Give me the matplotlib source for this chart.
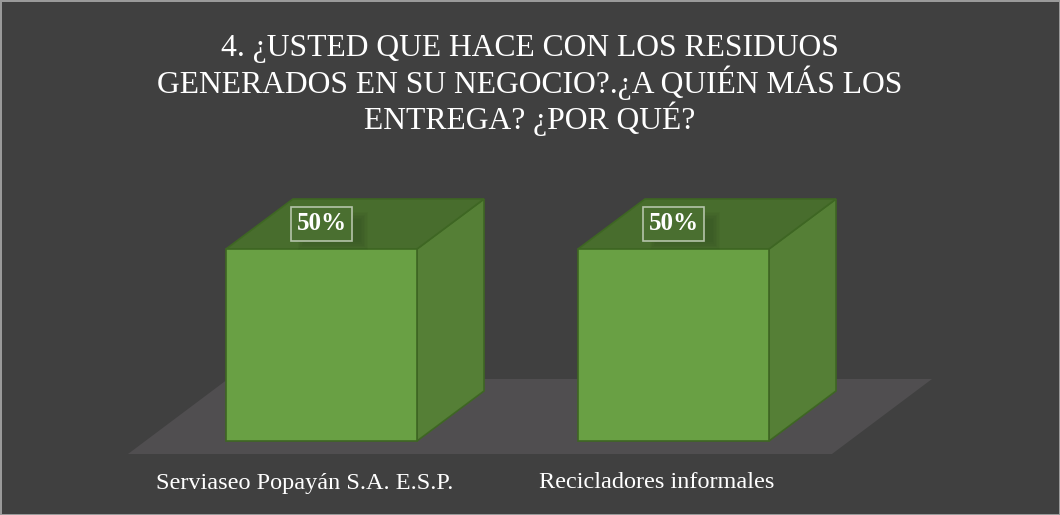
import matplotlib
matplotlib.use("Agg")
import matplotlib.pyplot as plt
from matplotlib.patches import Polygon, Rectangle

categories = ["Serviaseo Popayán S.A. E.S.P.", "Recicladores informales"]
values = [50, 50]
value_labels = ["50%", "50%"]
title = "4. ¿USTED QUE HACE CON LOS RESIDUOS\nGENERADOS EN SU NEGOCIO?.¿A QUIÉN MÁS LOS\nENTREGA? ¿POR QUÉ?"

BG = "#404040"
FRONT = "#69a044"
SIDE = "#557f36"
TOP = "#486d2d"
EDGE = "#3e6623"
FLOOR = "#504e50"

W, H = 1060, 515
fig = plt.figure(figsize=(W / 100, H / 100), dpi=100, facecolor=BG)
fig.patch.set_edgecolor("#9a9a9a")
fig.patch.set_linewidth(1.8)

ax = fig.add_axes([0, 0, 1, 1])
ax.set_facecolor("none")
ax.axis("off")

# category spacing 352 px, value scale 3.84 px per unit
xpx, ypx = 352.0, 3.84
x0, y0 = 321.5, 74.0
ax.set_xlim(-x0 / xpx, (W - x0) / xpx)
ax.set_ylim(-y0 / ypx, (H - y0) / ypx)

bar_w = 191 / xpx
dx, dy = 67 / xpx, 50 / ypx

# floor
fdx, fdy = 100 / xpx, 75 / ypx
fl, fr = (128 - x0) / xpx, (832 - x0) / xpx
fy = -(454 - 441) / ypx
ax.add_patch(Polygon([(fl, fy), (fr, fy), (fr + fdx, fy + fdy), (fl + fdx, fy + fdy)],
                     closed=True, facecolor=FLOOR, edgecolor="none", zorder=1))

for i, v in enumerate(values):
    l, r = i - bar_w / 2, i + bar_w / 2
    side = [(r, 0), (r + dx, dy), (r + dx, v + dy), (r, v)]
    top = [(l, v), (r, v), (r + dx, v + dy), (l + dx, v + dy)]
    ax.add_patch(Polygon(side, closed=True, facecolor=SIDE, edgecolor=EDGE, lw=1.2, zorder=2))
    ax.add_patch(Polygon(top, closed=True, facecolor=TOP, edgecolor=EDGE, lw=1.2, zorder=2))
    ax.add_patch(Rectangle((l, 0), bar_w, v, facecolor=FRONT, edgecolor=EDGE, lw=1.2, zorder=3))

    # soft shadow under label
    for k in range(6):
        ax.add_patch(Rectangle((i - 0.08 + 0.012 + k * 0.004, v + dy / 2 - 5.6 - 1.2 + k * 0.4),
                               0.2 - k * 0.008, 10.0 - k * 0.8,
                               facecolor="#2f4a1f", alpha=0.08, edgecolor="none", zorder=4))
    ax.text(i, v + dy / 2, value_labels[i], ha="center", va="center", color="white",
            fontsize=18, fontweight="bold", family="Liberation Serif", zorder=6,
            bbox=dict(boxstyle="square,pad=0.22", facecolor="#4a6f30",
                      edgecolor="#b5c4aa", lw=1.2))

    ax.text(i - 0.048, -(483 - 441) / ypx, categories[i], ha="center", va="center",
            color="white", fontsize=17.5, family="Liberation Serif", zorder=5)

fig.text(0.5, 1 - 85 / H, title, ha="center", va="center", color="white",
         fontsize=22.8, family="Liberation Serif", linespacing=1.08)

fig.savefig("out.png", dpi=100, facecolor=BG, edgecolor=fig.patch.get_edgecolor())
